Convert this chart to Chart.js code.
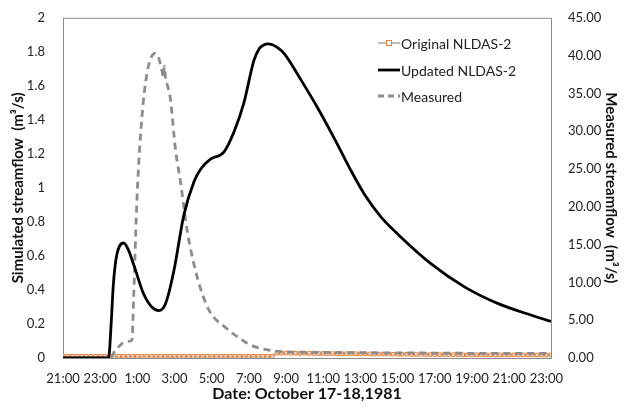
<!DOCTYPE html>
<html>
<head>
<meta charset="utf-8">
<script src="https://cdn.jsdelivr.net/npm/chart.js@4"></script>
<style>
  html, body { margin: 0; padding: 0; background: #fff; }
  #wrap { width: 629px; height: 409px; }
</style>
</head>
<body>
<div id="wrap"><canvas id="myChart" width="629" height="409"></canvas></div>
<script>
// ------------------------------------------------------------
// Data (hours counted from 21:00 on Oct 17)
// ------------------------------------------------------------
const tickHours = [0, 2, 4, 6, 8, 10, 12, 14, 16, 18, 20, 22, 24, 26]

const updatedHours = [0, 2.45, 2.6, 2.7, 2.8, 2.9, 3.05, 3.26, 3.5, 3.8, 4.34, 4.79, 5.15, 5.51, 5.96, 6.5, 7.04, 7.4, 7.95,
    8.65, 9.2, 9.73, 10.27, 10.56, 10.8, 11.0, 11.3, 11.6, 11.9, 12.8, 13.7, 14.6, 15.5, 16.23, 17.1, 18.04, 19.84, 21.64,
    23.44, 25.24, 26.25]
const updatedFlow = [0, 0, 0.22, 0.42, 0.54, 0.61, 0.66, 0.676, 0.64, 0.55, 0.376, 0.298, 0.279, 0.318, 0.51, 0.84, 1.035, 1.11, 1.17,
    1.21, 1.33, 1.5, 1.75, 1.82, 1.84, 1.847, 1.84, 1.82, 1.79, 1.635, 1.47, 1.29, 1.1, 0.96, 0.83, 0.725, 0.55, 0.415,
    0.318, 0.25, 0.215]

const measuredHours = [0, 2.5, 2.8, 3.17, 3.5, 3.71, 3.8, 3.98, 4.25, 4.52, 4.75, 4.94, 5.1, 5.3, 5.4, 5.45, 5.52, 5.6, 5.78,
    6.05, 6.32, 6.69, 7.23, 7.86, 8.76, 9.5, 10.1, 11.2, 12, 14, 16, 18, 20, 22, 24, 26.25]
const measuredFlow = [0, 0, 0.9, 1.9, 2.2, 2.35, 8.0, 21.1, 32, 37.7, 39.8, 40.3, 40.0, 38.3, 37.2, 38.6, 36.8, 36.2, 34.2,
    27.6, 23.3, 16.7, 10.6, 6.3, 4.0, 2.6, 1.7, 1.0, 0.82, 0.75, 0.7, 0.68, 0.65, 0.62, 0.6, 0.6]

// Original NLDAS-2, one value every 15 minutes
const originalStepHours = 0.25
const originalFlow = [
    0.01, 0.01, 0.01, 0.01, 0.01, 0.01, 0.01, 0.01, 0.01, 0.01,
    0.01, 0.01, 0.01, 0.01, 0.01, 0.01, 0.01, 0.01, 0.01, 0.01,
    0.01, 0.01, 0.01, 0.01, 0.01, 0.01, 0.01, 0.01, 0.01, 0.01,
    0.01, 0.01, 0.01, 0.01, 0.01, 0.01, 0.01, 0.01, 0.01, 0.01,
    0.01, 0.01, 0.01, 0.01, 0.01, 0.01, 0.028, 0.028, 0.029, 0.028,
    0.028, 0.027, 0.028, 0.027, 0.027, 0.026, 0.027, 0.026, 0.026, 0.025,
    0.025, 0.025, 0.026, 0.025, 0.024, 0.024, 0.024, 0.023, 0.023, 0.023,
    0.023, 0.022, 0.022, 0.022, 0.022, 0.021, 0.021, 0.021, 0.021, 0.02,
    0.02, 0.02, 0.02, 0.02, 0.02, 0.019, 0.019, 0.019, 0.019, 0.019,
    0.019, 0.018, 0.018, 0.018, 0.018, 0.018, 0.018, 0.018, 0.018, 0.018,
    0.018, 0.018, 0.018, 0.018, 0.018, 0.018
]

const seriesNames = ['Original NLDAS-2', 'Updated NLDAS-2', 'Measured']

// ------------------------------------------------------------
// Build datasets
// ------------------------------------------------------------
const FONT = 'Lato, "Open Sans", sans-serif'

const data = {
    datasets: [
        {
            label: seriesNames[0],
            data: originalFlow.map((v, i) => ({ x: i * originalStepHours, y: v })),
            yAxisID: 'y',
            borderColor: '#a6a6a6',
            borderWidth: 1.5,
            pointStyle: 'rect',
            pointRadius: 2.5,
            pointBorderWidth: 1,
            pointBorderColor: '#ED7D31',
            pointBackgroundColor: 'rgba(255,255,255,0.4)',
            order: 3,
        },
        {
            label: seriesNames[1],
            data: updatedHours.map((h, i) => ({ x: h, y: updatedFlow[i] })),
            yAxisID: 'y',
            borderColor: '#000',
            borderWidth: 2.8,
            pointRadius: 0,
            cubicInterpolationMode: 'monotone',
            order: 1,
        },
        {
            label: seriesNames[2],
            data: measuredHours.map((h, i) => ({ x: h, y: measuredFlow[i] })),
            yAxisID: 'y1',
            borderColor: '#8c8c8c',
            borderWidth: 2.8,
            borderDash: [7, 5],
            pointRadius: 0,
            cubicInterpolationMode: 'monotone',
            order: 2,
        }
    ]
}

// frame around the plot + legend inside plot
const framePlugin = {
    id: 'frame',
    beforeDatasetsDraw(chart) {
        const { ctx, chartArea: a } = chart
        ctx.save()
        ctx.strokeStyle = '#8a8a8a'
        ctx.lineWidth = 1
        ctx.strokeRect(a.left + 0.5, a.top + 0.5, a.right - a.left, a.bottom - a.top)
        ctx.restore()
    },
    afterDatasetsDraw(chart) {
        const { ctx } = chart
        const x0 = 378, x1 = 400, rows = [43, 70, 96]
        ctx.save()
        chart.data.datasets.forEach((ds, i) => {
            const y = rows[i]
            ctx.beginPath()
            ctx.strokeStyle = ds.borderColor
            ctx.lineWidth = ds.borderWidth
            ctx.setLineDash(ds.borderDash ? [6, 4] : [])
            ctx.moveTo(x0, y)
            ctx.lineTo(x1, y)
            ctx.stroke()
            ctx.setLineDash([])
            if (i === 0) {
                ctx.fillStyle = '#fff'
                ctx.fillRect(x0 + 8, y - 3, 6, 6)
                ctx.strokeStyle = ds.pointBorderColor
                ctx.lineWidth = 1
                ctx.strokeRect(x0 + 8.5, y - 2.5, 5, 5)
            }
            ctx.fillStyle = '#222'
            ctx.font = '14px ' + FONT
            ctx.textBaseline = 'middle'
            ctx.fillText(ds.label, x1 + 1, y + 1)
        })
        ctx.restore()
    }
}

const config = {
    type: 'line',
    data: data,
    options: {
        responsive: false,
        animation: false,
        layout: { padding: { top: 14, left: 0, right: 0, bottom: 0 } },
        plugins: {
            legend: { display: false },
            tooltip: { enabled: false }
        },
        scales: {
            x: {
                type: 'linear',
                min: 0,
                max: 26.25,
                grid: { display: false },
                border: { display: false },
                afterBuildTicks: (scale) => { scale.ticks = tickHours.map(v => ({ value: v })) },
                afterFit: (scale) => { scale.height = 51 },
                ticks: {
                    autoSkip: false,
                    maxRotation: 0,
                    padding: 5,
                    color: '#222',
                    font: { family: FONT, size: 13 },
                    callback: (v) => ((21 + v) % 24) + ':00'
                },
                title: {
                    display: true,
                    text: 'Date: October 17-18,1981',
                    color: '#111',
                    font: { family: FONT, size: 16, weight: 'bold' },
                    padding: { top: 0, bottom: 6 }
                }
            },
            y: {
                position: 'left',
                min: 0,
                max: 2,
                grid: { display: false },
                border: { display: false },
                afterFit: (scale) => { scale.width = 63 },
                ticks: {
                    stepSize: 0.2,
                    padding: 10,
                    color: '#222',
                    font: { family: FONT, size: 13 },
                    callback: (v) => String(parseFloat(v.toFixed(1)))
                },
                title: {
                    display: true,
                    text: 'Simulated streamflow  (m³/s)',
                    color: '#111',
                    font: { family: FONT, size: 15, weight: 'bold' },
                    padding: { top: 9, bottom: 0 }
                }
            },
            y1: {
                position: 'right',
                min: 0,
                max: 45,
                grid: { display: false },
                border: { display: false },
                afterFit: (scale) => { scale.width = 78 },
                ticks: {
                    stepSize: 5,
                    padding: 9,
                    color: '#222',
                    font: { family: FONT, size: 13 },
                    callback: (v) => v.toFixed(2)
                },
                title: {
                    display: true,
                    text: 'Measured streamflow  (m³/s)',
                    color: '#111',
                    font: { family: FONT, size: 15, weight: 'bold' },
                    padding: { top: 9, bottom: 0 }
                }
            }
        }
    },
    plugins: [framePlugin]
}

const myChart = new Chart(document.getElementById('myChart'), config)
</script>
</body>
</html>
